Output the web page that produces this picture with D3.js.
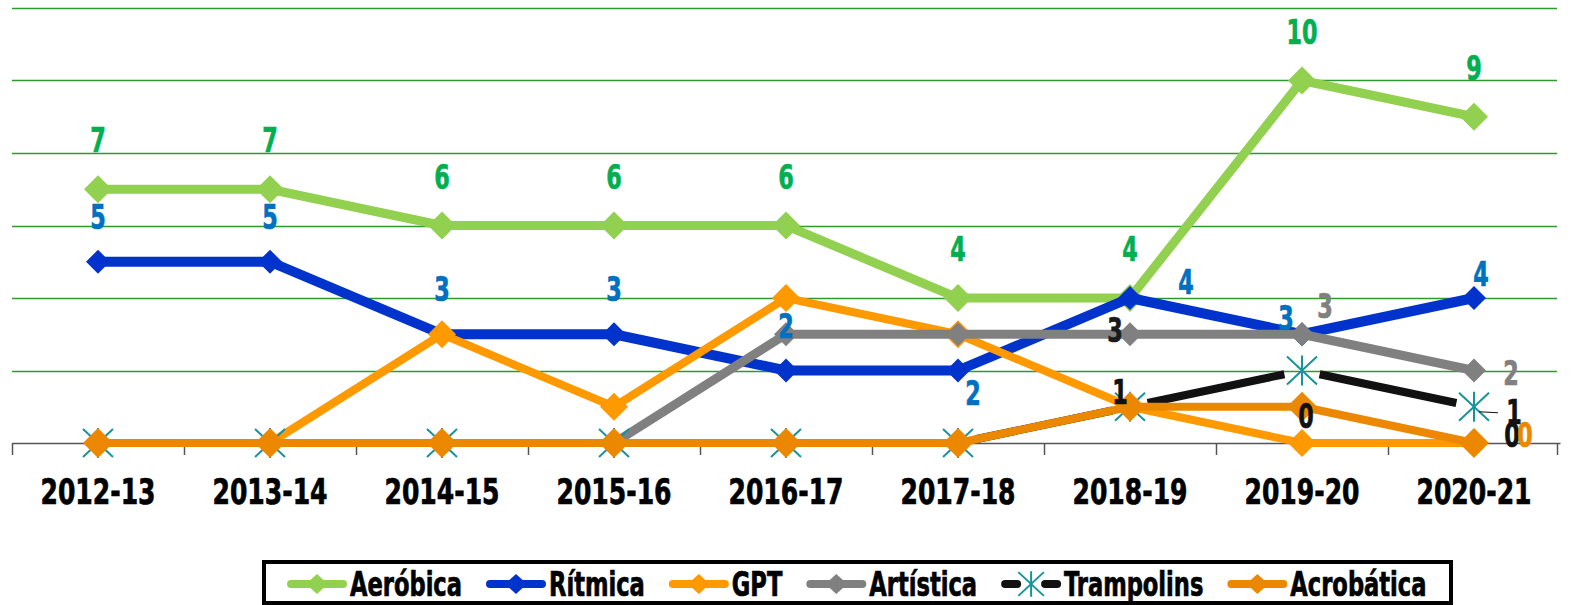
<!DOCTYPE html>
<html>
<head>
<meta charset="utf-8">
<script src="https://cdn.jsdelivr.net/npm/d3@7"></script>
<style>
  html, body { margin: 0; padding: 0; background: #fff; overflow: hidden; }
  svg { display: block; }
</style>
</head>
<body>
<svg id="chart" width="1577" height="605"></svg>
<script>
const categories = ["2012-13","2013-14","2014-15","2015-16","2016-17","2017-18","2018-19","2019-20","2020-21"];
const aerobica   = [7, 7, 6, 6, 6, 4, 4, 10, 9];
const ritmica    = [5, 5, 3, 3, 2, 2, 4, 3, 4];
const gpt        = [0, 0, 3, 1, 4, 3, 1, 0, 0];
const artistica  = [null, null, null, 0, 3, 3, 3, 3, 2];
const trampolins = [0, 0, 0, 0, 0, 0, 1, 2, 1];
const acrobatica = [0, 0, 0, 0, 0, 0, 1, 1, 0];
const seriesNames = ["Aeróbica","Rítmica","GPT","Artística","Trampolins","Acrobática"];
const gridTicks = [2, 4, 6, 8, 10, 12];

const FONT = "'Liberation Sans Narrow','Arial Narrow','DejaVu Sans Condensed',sans-serif";

const series = [
  {name: seriesNames[0], values: aerobica,   color: "#92D050", width: 9,  marker: "diamond", r: 14},
  {name: seriesNames[1], values: ritmica,    color: "#0033CC", width: 10, marker: "diamond", r: 12},
  {name: seriesNames[2], values: gpt,        color: "#FF9900", width: 8,  marker: "diamond", r: 14},
  {name: seriesNames[3], values: artistica,  color: "#808080", width: 9,  marker: "diamond", r: 12},
  {name: seriesNames[4], values: trampolins, color: "#111111", width: 8,  marker: "star", r: 15, mcolor: "#17949A"},
  {name: seriesNames[5], values: acrobatica, color: "#EC8800", width: 8,  marker: "diamond", r: 15}
];

const svg = d3.select("#chart");
const x = d3.scaleBand().domain(categories).range([12, 1560]).padding(0);
const cx = c => x(c) + x.bandwidth() / 2;
const y = d3.scaleLinear().domain([0, 12]).range([443, 8]);

function condenseFactor(fontSize, refText, targetWidth) {
  const t = svg.append("text").attr("font-family", FONT).attr("font-weight", "bold")
    .attr("font-size", fontSize).text(refText);
  const w = t.node().getComputedTextLength();
  t.remove();
  return Math.min(1, targetWidth / w);
}
function condense(sel, factor) {
  sel.each(function() {
    const w = this.getComputedTextLength();
    d3.select(this).attr("textLength", w * factor).attr("lengthAdjust", "spacingAndGlyphs");
  });
}
function heavy(sel) {
  sel.attr("stroke", function() { return d3.select(this).attr("fill"); })
     .attr("stroke-width", 0.7).attr("paint-order", "stroke");
}

// gridlines
svg.append("g").selectAll("line").data(gridTicks).join("line")
  .attr("x1", 12).attr("x2", 1557)
  .attr("y1", d => Math.round(y(d)) + 0.5).attr("y2", d => Math.round(y(d)) + 0.5)
  .attr("stroke", "#2E9A2E").attr("stroke-width", 1.6);

// x axis
const xAxis = d3.axisBottom(x).tickSize(0).tickFormat(d => d);
const gx = svg.append("g").attr("transform", `translate(0,${y(0)})`).call(xAxis);
gx.select(".domain").attr("stroke", "#555").attr("stroke-width", 1.5);
const catSize = 36;
const catText = gx.selectAll(".tick text").attr("font-family", FONT).attr("font-weight", "bold")
  .attr("font-size", catSize).attr("fill", "#000").attr("dy", null).attr("y", 61);
condense(catText, condenseFactor(catSize, "2012-13", 115));
heavy(catText);
const bounds = categories.map(c => x(c)).concat([x(categories[categories.length-1]) + x.bandwidth()]);
gx.append("g").selectAll("line").data(bounds).join("line")
  .attr("x1", d => Math.min(d, 1557) + 0.5).attr("x2", d => Math.min(d, 1557) + 0.5)
  .attr("y1", 0).attr("y2", 12).attr("stroke", "#555").attr("stroke-width", 1.5);

function diamondPath(r) { return `M0,${-r}L${r},0L0,${r}L${-r},0Z`; }
function drawMarker(g, s, px, py, scale) {
  const r = s.r * (scale || 1);
  if (s.marker === "diamond") {
    g.append("path").attr("d", diamondPath(r)).attr("transform", `translate(${px},${py})`).attr("fill", s.color);
  } else {
    const h = r * 0.93;
    const m = g.append("g").attr("transform", `translate(${px},${py})`)
      .attr("stroke", s.mcolor).attr("stroke-width", 2);
    m.append("line").attr("x1", -r).attr("y1", -h).attr("x2", r).attr("y2", h);
    m.append("line").attr("x1", -r).attr("y1", h).attr("x2", r).attr("y2", -h);
    m.append("line").attr("x1", 0).attr("y1", -r).attr("x2", 0).attr("y2", r);
  }
}

const lineGen = d3.line().defined(d => d.v !== null).x(d => cx(d.c)).y(d => y(d.v));

series.forEach(s => {
  const g = svg.append("g");
  const pts = categories.map((c, i) => ({c, v: s.values[i]}));
  if (s.marker === "star") {
    for (let i = 0; i < pts.length - 1; i++) {
      const a = pts[i], b = pts[i+1];
      if (a.v === null || b.v === null) continue;
      const x1 = cx(a.c), y1 = y(a.v), x2 = cx(b.c), y2 = y(b.v);
      const len = Math.hypot(x2 - x1, y2 - y1);
      const ux = (x2 - x1) / len, uy = (y2 - y1) / len;
      const gap = 18;
      g.append("line")
        .attr("x1", x1 + ux * gap).attr("y1", y1 + uy * gap)
        .attr("x2", x2 - ux * gap).attr("y2", y2 - uy * gap)
        .attr("stroke", s.color).attr("stroke-width", s.width);
    }
  } else {
    g.append("path").datum(pts).attr("d", lineGen)
      .attr("fill", "none").attr("stroke", s.color).attr("stroke-width", s.width)
      .attr("stroke-linejoin", "round");
  }
  pts.forEach(p => { if (p.v !== null) drawMarker(g, s, cx(p.c), y(p.v)); });
});

{
  const i = 8;
  svg.append("line")
    .attr("x1", cx(categories[i]) + 5).attr("y1", y(trampolins[i]) + 5)
    .attr("x2", cx(categories[i]) + 24).attr("y2", y(trampolins[i]) + 6)
    .attr("stroke", "#111").attr("stroke-width", 1.2);
}

// data labels: [series values, index, dx, dy, color]
const labelSpecs = [];
aerobica.forEach((v, i) => labelSpecs.push([aerobica, i, 0, -37, "#00B050"]));
[[0,0,-33],[1,0,-33],[2,0,-33],[3,0,-33],[4,0,-33],[5,15,34],[6,56,-4],[7,-16,-4],[8,7,-12]]
  .forEach(([i, dx, dy]) => labelSpecs.push([ritmica, i, dx, dy, "#0070C0"]));
labelSpecs.push([artistica, 6, -15, 8, "#1a1a1a"]);
labelSpecs.push([artistica, 7, 23, -16, "#808080"]);
labelSpecs.push([artistica, 8, 37, 14, "#808080"]);
labelSpecs.push([trampolins, 6, -10, -3, "#111111"]);
labelSpecs.push([trampolins, 8, 40, 17, "#111111"]);
labelSpecs.push([gpt, 7, 4, -15, "#111111"]);
labelSpecs.push([gpt, 8, 38, 4, "#111111"]);
labelSpecs.push([acrobatica, 8, 51, 4, "#EC8800"]);

const lblSize = 34;
const lbls = svg.append("g").selectAll("text").data(labelSpecs).join("text")
  .attr("x", d => cx(categories[d[1]]) + d[2])
  .attr("y", d => y(d[0][d[1]]) + d[3])
  .attr("text-anchor", "middle")
  .attr("font-family", FONT).attr("font-weight", "bold").attr("font-size", lblSize)
  .attr("fill", d => d[4])
  .text(d => d[0][d[1]]);
condense(lbls, condenseFactor(lblSize, "10", 31));
heavy(lbls);

// legend
const lg = svg.append("g");
lg.append("rect").attr("x", 264).attr("y", 562).attr("width", 1187).attr("height", 41)
  .attr("fill", "#fff").attr("stroke", "#000").attr("stroke-width", 4);
const legSize = 33;
const legFactor = condenseFactor(legSize, "Aeróbica", 112);
let lx = 287;
const ly = 584;
series.forEach(s => {
  const it = lg.append("g");
  if (s.marker === "star") {
    it.append("line").attr("x1", lx + 4).attr("x2", lx + 16).attr("y1", ly).attr("y2", ly)
      .attr("stroke", s.color).attr("stroke-width", 8).attr("stroke-linecap", "round");
    it.append("line").attr("x1", lx + 44).attr("x2", lx + 56).attr("y1", ly).attr("y2", ly)
      .attr("stroke", s.color).attr("stroke-width", 8).attr("stroke-linecap", "round");
    drawMarker(it, s, lx + 30, ly, 0.85);
  } else {
    it.append("line").attr("x1", lx + 4).attr("x2", lx + 56).attr("y1", ly).attr("y2", ly)
      .attr("stroke", s.color).attr("stroke-width", 8).attr("stroke-linecap", "round");
    it.append("path").attr("d", `M0,-10L11,0L0,10L-11,0Z`)
      .attr("transform", `translate(${lx + 30},${ly})`).attr("fill", s.color);
  }
  const t = it.append("text").attr("x", lx + 63).attr("y", 596)
    .attr("font-family", FONT).attr("font-weight", "bold").attr("font-size", legSize)
    .attr("fill", "#000000").text(s.name);
  const w = t.node().getComputedTextLength() * legFactor;
  t.attr("textLength", w).attr("lengthAdjust", "spacingAndGlyphs");
  heavy(t);
  lx += 63 + w + 24;
});
</script>
</body>
</html>
